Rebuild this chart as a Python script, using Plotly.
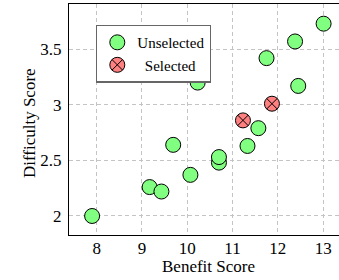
import plotly.graph_objects as go

# Data
unsel_benefit = [7.90, 9.17, 9.43, 9.69, 10.07, 10.70, 10.70, 11.33, 11.57, 12.45, 10.23, 11.75, 12.38, 13.01]
unsel_difficulty = [2.00, 2.26, 2.22, 2.64, 2.37, 2.48, 2.53, 2.63, 2.79, 3.17, 3.20, 3.42, 3.57, 3.73]
sel_benefit = [11.23, 11.87]
sel_difficulty = [2.86, 3.01]

x_ticks = [8, 9, 10, 11, 12, 13]
y_ticks = [2, 2.5, 3, 3.5]
y_tick_labels = ["2", "2.5", "3", "3.5"]

FONT = "Liberation Serif"
FS = 17
GRID = "#c4c4c4"

fig = go.Figure()
fig.add_trace(go.Scatter(
    x=unsel_benefit, y=unsel_difficulty, mode="markers", name="Unselected",
    marker=dict(symbol="circle", size=15, color="#80FF80", line=dict(color="black", width=1)),
))
fig.add_trace(go.Scatter(
    x=sel_benefit, y=sel_difficulty, mode="markers", name="\u00a0\u00a0Selected",
    marker=dict(symbol="circle-x", size=15, color="#FF8080", line=dict(color="black", width=1)),
))

fig.update_layout(
    width=339, height=280,
    margin=dict(l=69, r=0, t=4, b=45, autoexpand=False),
    plot_bgcolor="white", paper_bgcolor="white",
    font=dict(family=FONT, size=FS, color="black"),
    showlegend=True,
    legend=dict(
        x=0.1, y=0.91, xanchor="left", yanchor="top",
        bgcolor="white", bordercolor="#666666", borderwidth=1.3,
        font=dict(family=FONT, size=15, color="black"),
        itemwidth=30, tracegroupgap=0,
    ),
    xaxis=dict(
        range=[7.39, 13.35], tickvals=x_ticks, ticktext=[str(t) for t in x_ticks],
        showgrid=True, gridcolor=GRID, griddash="4px,3px", gridwidth=1,
        showline=True, linecolor="black", linewidth=1.3, mirror=True,
        zeroline=False, ticks="", ticklen=0, automargin=False,
        ticklabelstandoff=-3,
        tickfont=dict(family=FONT, size=FS),
    ),
    yaxis=dict(
        range=[1.829, 3.907], tickvals=y_ticks, ticktext=y_tick_labels,
        showgrid=True, gridcolor=GRID, griddash="4px,3px", gridwidth=1,
        showline=True, linecolor="black", linewidth=1.3, mirror=False,
        zeroline=False, ticks="", ticklen=0, automargin=False,
        ticklabelstandoff=3,
        tickfont=dict(family=FONT, size=FS),
    ),
    annotations=[
        dict(text="Benefit Score", xref="paper", yref="paper", x=0.515, y=-0.135,
             xanchor="center", yanchor="middle", showarrow=False,
             font=dict(family=FONT, size=FS)),
        dict(text="Difficulty Score", xref="paper", yref="paper", x=-0.144, y=0.485,
             xanchor="center", yanchor="middle", textangle=-90, showarrow=False,
             font=dict(family=FONT, size=FS)),
    ],
)

fig.write_html(
    "out.html",
    config={"displayModeBar": False},
    post_script="document.body.style.margin='0';document.body.style.overflow='hidden';",
)
